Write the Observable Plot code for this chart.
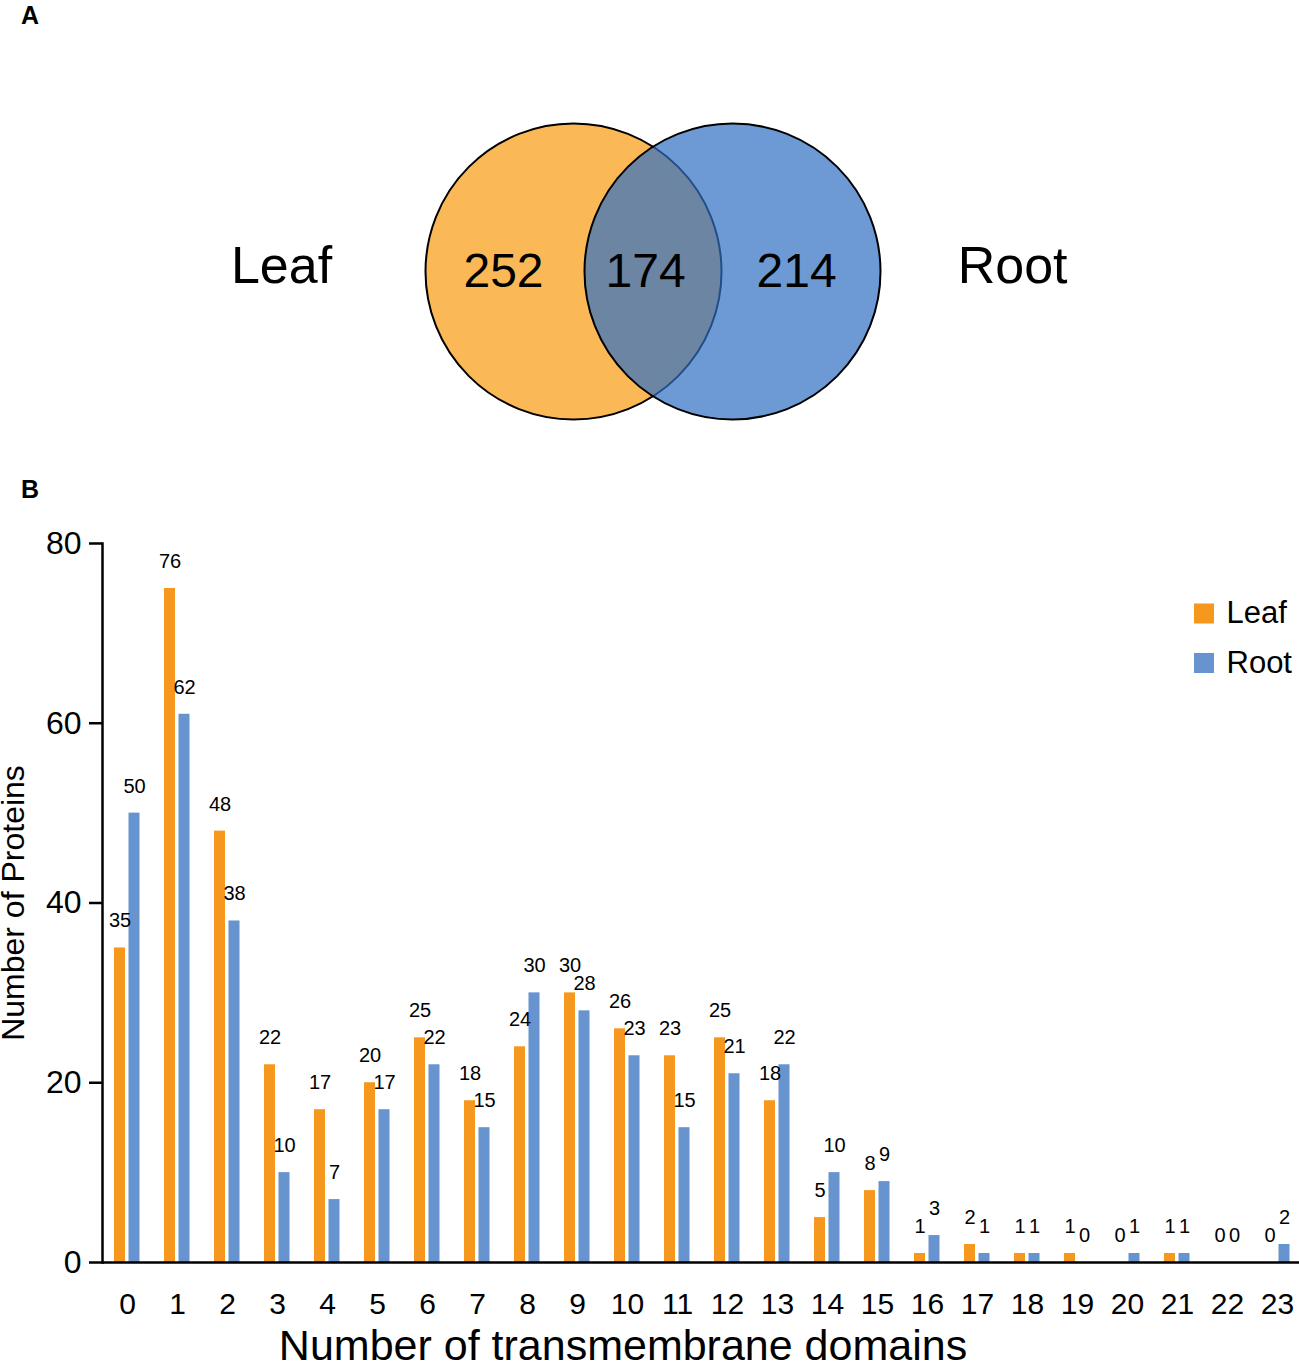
<!DOCTYPE html>
<html><head><meta charset="utf-8">
<script src="https://cdn.jsdelivr.net/npm/d3@7"></script>
<script src="https://cdn.jsdelivr.net/npm/@observablehq/plot@0.6"></script>
<style>
body{margin:0;background:#fff;overflow:hidden;}
#wrap{position:relative;width:1299px;height:1363px;font-family:"Liberation Sans",Arial,sans-serif;}
.panel{position:absolute;left:21px;font-weight:bold;font-size:25px;line-height:1;color:#000;}
svg{display:block}
</style></head><body>
<div id="wrap"><div id="venn"></div><div id="bars"></div>
<div class="panel" style="top:3px">A</div><div class="panel" style="top:477px">B</div></div>
<script>
// ---- data ----
const series = ["Leaf", "Root"];
const seriesColors = ["#F7981E", "#6794CE"];
const categories = ["0","1","2","3","4","5","6","7","8","9","10","11","12","13","14","15","16","17","18","19","20","21","22","23"];
const leafValues = [35,75,48,22,17,20,25,18,24,30,26,23,25,18,5,8,1,2,1,1,0,1,0,0];
const rootValues = [50,61,38,10,7,17,22,15,30,28,23,15,21,22,10,9,3,1,1,0,1,1,0,2];
const leafLabels = [35,76,48,22,17,20,25,18,24,30,26,23,25,18,5,8,1,2,1,1,0,1,0,0];
const rootLabels = [50,62,38,10,7,17,22,15,30,28,23,15,21,22,10,9,3,1,1,0,1,1,0,2];
const yTicks = [0,20,40,60,80];
const vennSets = ["Leaf", "Root"];
const vennUnique = [252, 214];
const vennShared = 174;
const vennColors = ["#FBB857", "#2F6FC2"];

const FONT = "Liberation Sans, Arial, sans-serif";
const W = 1299;

// ---- Panel A: Venn ----
const U = 148, cx = 652.5, cy = 271, H1 = 470, sep = 159 / 148;
const vennPlot = Plot.plot({
  width: W, height: H1, margin: 0,
  style: {fontFamily: FONT, background: "white", color: "#000"},
  x: {domain: [-cx / U, (W - cx) / U], range: [0, W], axis: null},
  y: {domain: [cy / U, (cy - H1) / U], range: [0, H1], axis: null},
  marks: [
    Plot.dot([vennSets[0]], {x: () => -sep / 2, y: () => 0, r: U, fill: vennColors[0], stroke: "#000", strokeWidth: 2}),
    Plot.dot([vennSets[1]], {x: () => sep / 2, y: () => 0, r: U, fill: vennColors[1], fillOpacity: 0.7, stroke: "#000", strokeWidth: 2}),
    Plot.text(vennSets, {x: (d, i) => i ? 2.43 : -2.51, y: () => 0.034, text: d => d, fontSize: 52}),
    Plot.text([vennUnique[0], vennShared, vennUnique[1]], {x: (d, i) => [-1.01, -0.05, 0.97][i], y: () => 0, text: d => String(d), fontSize: 48})
  ]
});
document.getElementById("venn").appendChild(vennPlot);

// ---- Panel B: bars ----
const rows = categories.flatMap((c, i) => [
  {cat: c, series: series[0], value: leafValues[i], label: leafLabels[i]},
  {cat: c, series: series[1], value: rootValues[i], label: rootLabels[i]}
]);
const leafRows = rows.filter(d => d.series === series[0]);
const rootRows = rows.filter(d => d.series === series[1]);
const H2 = 893;
const barPlot = Plot.plot({
  width: W, height: H2,
  marginTop: 73, marginBottom: 101, marginLeft: 102, marginRight: 0,
  style: {fontFamily: FONT, background: "white", color: "#000"},
  x: {type: "band", domain: categories, range: [102, 1302], padding: 0},
  y: {domain: [0, 80]},
  marks: [
    Plot.barY(leafRows, {x: "cat", y: "value", fill: seriesColors[0], insetLeft: 12, insetRight: 27}),
    Plot.barY(rootRows, {x: "cat", y: "value", fill: seriesColors[1], insetLeft: 26.5, insetRight: 12.5}),
    Plot.text(leafRows, {x: "cat", y: "value", text: d => String(d.label), dx: -7.5, dy: -27, fontSize: 20}),
    Plot.text(rootRows, {x: "cat", y: "value", text: d => String(d.label), dx: 7, dy: -27, fontSize: 20}),
    Plot.ruleY([0], {strokeWidth: 2.5}),
    Plot.frame({anchor: "left", strokeWidth: 2.5}),
    Plot.axisY({ticks: yTicks, tickSize: 13, tickPadding: 8, fontSize: 32, strokeWidth: 2.5, label: null}),
    Plot.axisX({tickSize: 0, tickPadding: 30, fontSize: 30, label: null}),
    Plot.text(["Number of transmembrane domains"], {frameAnchor: "bottom", textAnchor: "middle", lineAnchor: "bottom", dx: -78, dy: 97, fontSize: 43, text: d => d}),
    Plot.text(["Number of Proteins"], {frameAnchor: "left", textAnchor: "middle", lineAnchor: "bottom", rotate: -90, dx: -79, fontSize: 32, text: d => d}),
    ...series.map((s, i) => Plot.dot([s], {frameAnchor: "top-right", symbol: "square", r: 11.3, fill: seriesColors[i], dx: -95.5, dy: 70 + i * 49.5})),
    ...series.map((s, i) => Plot.text([s], {frameAnchor: "top-right", textAnchor: "start", lineAnchor: "middle", text: d => d, fontSize: 31, dx: -73, dy: 70 + i * 49.5}))
  ]
});
document.getElementById("bars").appendChild(barPlot);
</script></body></html>
